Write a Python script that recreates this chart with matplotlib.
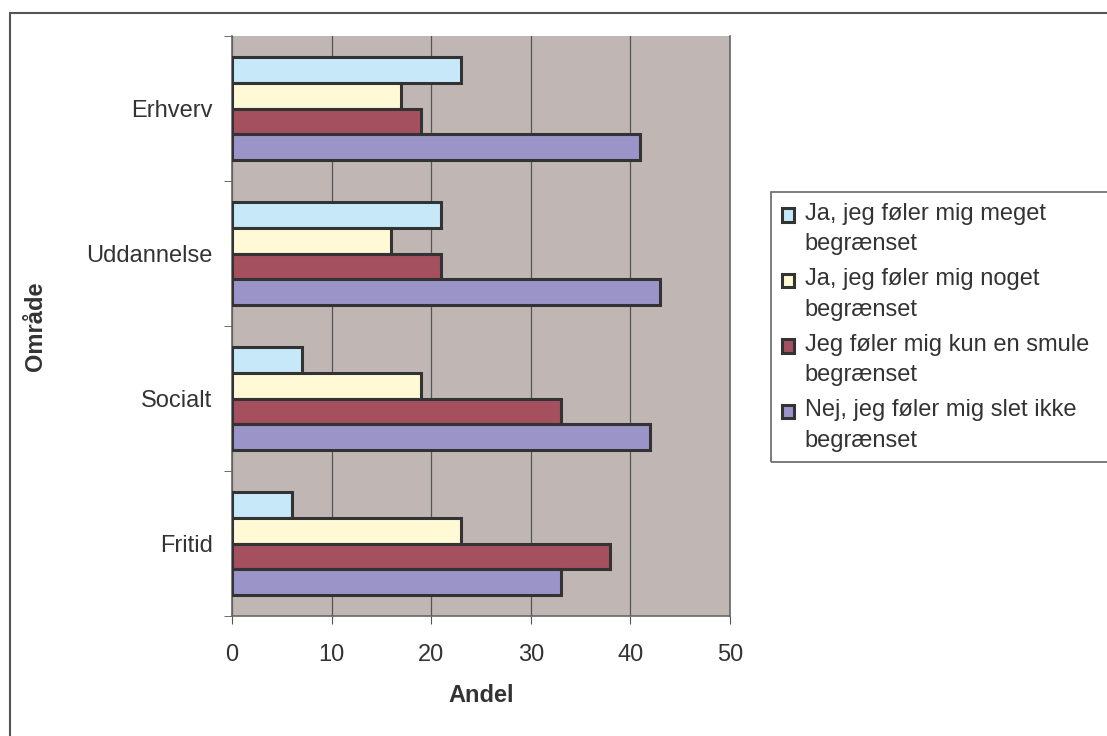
import numpy as np
import matplotlib.pyplot as plt
from matplotlib.patches import Rectangle
from matplotlib.container import BarContainer
from matplotlib.legend_handler import HandlerPatch, update_from_first_child

plt.rcParams['font.family'] = ['Liberation Sans', 'DejaVu Sans']

categories = ['Fritid', 'Socialt', 'Uddannelse', 'Erhverv']
series_names = ['Ja, jeg føler mig meget\nbegrænset',
                'Ja, jeg føler mig noget\nbegrænset',
                'Jeg føler mig kun en smule\nbegrænset',
                'Nej, jeg føler mig slet ikke\nbegrænset']
meget = [6, 7, 21, 23]
noget = [23, 19, 16, 17]
smule = [38, 33, 21, 19]
slet_ikke = [33, 42, 43, 41]
colors = ['#C6E8F8', '#FFF9D6', '#A5505E', '#9B94C8']

def top_patch(legend, orig_handle, xdescent, ydescent, width, height, fontsize):
    # put the legend square next to the first line of the label
    return Rectangle((-xdescent, -ydescent + 10), width, height)

def main():
    fig = plt.figure(figsize=(11.07, 7.36), dpi=100)
    W, H = 1107, 736
    ax = fig.add_axes([232 / W, 1 - 616 / H, (730 - 232) / W, (616 - 36) / H])
    ax.set_facecolor('#C0B7B4')
    fs = 17

    # outer chart frame (runs off right and bottom)
    fig.patches.append(Rectangle((10 / W, -0.05), 1.2, 1 - 13 / H + 0.05,
                                 transform=fig.transFigure, fill=False,
                                 edgecolor='#555555', linewidth=1.5))
    # legend frame (runs off right edge)
    fig.patches.append(Rectangle((771 / W, 1 - 462 / H), 1.0, (462 - 192) / H,
                                 transform=fig.transFigure, fill=False,
                                 edgecolor='#666666', linewidth=1.2))

    y = np.arange(len(categories))
    h = 0.178
    all_series = [meget, noget, smule, slet_ikke]
    for i, (vals, name, c) in enumerate(zip(all_series, series_names, colors)):
        offset = (1.5 - i) * h
        ax.barh(y + offset, vals, height=h, color=c, edgecolor='#333333',
                linewidth=2.2, label=name, zorder=3)

    ax.set_xlim(0, 50)
    ax.set_ylim(-0.5, len(categories) - 0.5)
    ax.set_xticks(np.arange(0, 51, 10))
    ax.set_yticks(y)
    ax.set_yticklabels(categories)
    ax.set_yticks(np.arange(-0.5, len(categories), 1), minor=True)
    ax.tick_params(axis='y', which='major', length=0, pad=14, labelsize=fs, labelcolor='#333333')
    ax.tick_params(axis='y', which='minor', length=6, color='#555555', direction='out')
    ax.tick_params(axis='x', length=6, color='#555555', direction='out', pad=14,
                   labelsize=fs, labelcolor='#333333')
    ax.grid(axis='x', color='#555555', linewidth=0.9, zorder=0)
    ax.set_axisbelow(True)
    ax.spines['top'].set_visible(False)
    for s in ['left', 'bottom', 'right']:
        ax.spines[s].set_color('#666666')
        ax.spines[s].set_linewidth(1.2)

    ax.set_xlabel('Andel', fontsize=fs, fontweight='bold', color='#333333', labelpad=13)
    ax.set_ylabel('Område', fontsize=fs, fontweight='bold', color='#333333', labelpad=28)

    handles, labels = ax.get_legend_handles_labels()
    handler = HandlerPatch(patch_func=top_patch, update_func=update_from_first_child)
    leg = fig.legend(handles, labels, loc='upper left',
                     bbox_to_anchor=(771 / W, 1 - 192 / H), fontsize=fs,
                     frameon=False, handlelength=0.52,
                     handleheight=0.52, handletextpad=0.45, labelspacing=0.55,
                     borderpad=0.45, borderaxespad=0, labelcolor='#333333',
                     handler_map={BarContainer: handler})
    for t in leg.get_texts():
        t.set_linespacing(1.5)

    fig.savefig('out.png', dpi=100)

if __name__ == '__main__':
    main()
